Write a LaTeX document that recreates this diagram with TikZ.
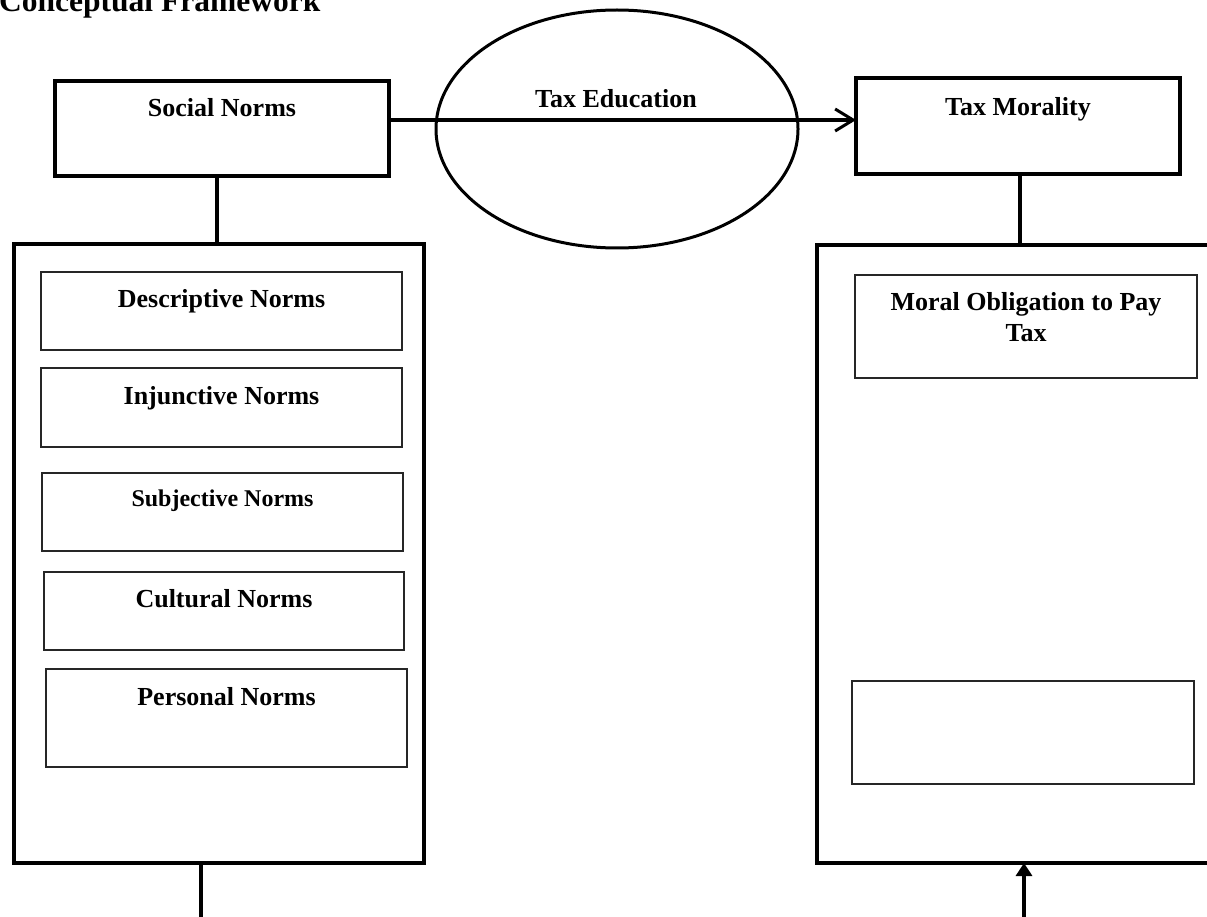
\documentclass[tikz,border=0pt]{standalone}
\usepackage{fontspec}
\setmainfont{Liberation Serif}
\usetikzlibrary{shapes.geometric,arrows.meta,calc}
\begin{document}
\begin{tikzpicture}[x=1pt,y=-1pt,
  heavybox/.style={draw=black,line width=3.3pt,rectangle,inner sep=0pt,outer sep=0pt},
  lightbox/.style={draw=black!85,line width=1.3pt,rectangle,inner sep=0pt,outer sep=0pt},
  lbl/.style={inner sep=0pt,outer sep=0pt,font=\bfseries\fontsize{26}{31}\selectfont,anchor=base},
  slbl/.style={inner sep=0pt,outer sep=0pt,font=\bfseries\fontsize{24}{29}\selectfont,anchor=base},
  conn/.style={line width=3.3pt}]
\useasboundingbox (0,0) rectangle (1207,917);

% title
\node[inner sep=0pt,anchor=base west,font=\bfseries\fontsize{31.5}{36}\selectfont] (title) at (-1,12) {Conceptual Framework};

% top row
\node[heavybox,minimum width=334pt,minimum height=95pt] (sn) at (222,128.5) {};
\node[lbl] (snt) at (222,117) {Social Norms};
\node[ellipse,draw=black,line width=3pt,minimum width=362pt,minimum height=238pt,inner sep=0pt] (te) at (617,129) {};
\node[lbl] (tet) at (616,108) {Tax Education};
\node[heavybox,minimum width=324pt,minimum height=96pt] (tm) at (1018,126) {};
\node[lbl] (tmt) at (1018,116) {Tax Morality};

\coordinate (ay) at (0,120);
\draw[conn,-{Straight Barb[length=18pt,width=22pt,line width=3pt]}] (sn.east |- ay) -- (tm.west |- ay);

% big boxes
\node[heavybox,minimum width=410pt,minimum height=619pt] (lb) at (219,553.5) {};
\node[heavybox,minimum width=393pt,minimum height=618pt] (rb) at (1013.5,554) {};

\draw[conn] ([xshift=-5pt]sn.south) -- ([xshift=-5pt]sn.south |- lb.north);
\draw[conn] ([xshift=2pt]tm.south) -- ([xshift=2pt]tm.south |- rb.north);

% left inner boxes
\node[lightbox,minimum width=361pt,minimum height=78pt] (dn) at (221.5,311) {};
\node[lbl] (dnt) at (dn.center |- 0,307) {Descriptive Norms};
\node[lightbox,minimum width=361pt,minimum height=79pt] (in) at (221.5,407.5) {};
\node[lbl] (int) at (in.center |- 0,404) {Injunctive Norms};
\node[lightbox,minimum width=361pt,minimum height=78pt] (su) at (222.5,512) {};
\node[slbl] (sut) at (su.center |- 0,506) {Subjective Norms};
\node[lightbox,minimum width=360pt,minimum height=78pt] (cn) at (224,611) {};
\node[lbl] (cnt) at (cn.center |- 0,607) {Cultural Norms};
\node[lightbox,minimum width=361pt,minimum height=98pt] (pn) at (226.5,718) {};
\node[lbl] (pnt) at (pn.center |- 0,705) {Personal Norms};

% right inner boxes
\node[lightbox,minimum width=342pt,minimum height=103pt] (mo) at (1026,326.5) {};
\node[lbl,align=center] (mot) at (mo.center |- 0,341) {Moral Obligation to Pay\\Tax};
\node[lightbox,minimum width=342pt,minimum height=103pt] (eb) at (1023,732.5) {};

% bottom connectors
\coordinate (lbot) at (201,925);
\coordinate (rbot) at (1024,925);
\draw[conn] (lb.south -| lbot) -- (lbot);
\draw[conn,-{Triangle[length=13pt,width=16pt]}] (rbot) -- (rb.south -| rbot);
\end{tikzpicture}
\end{document}
